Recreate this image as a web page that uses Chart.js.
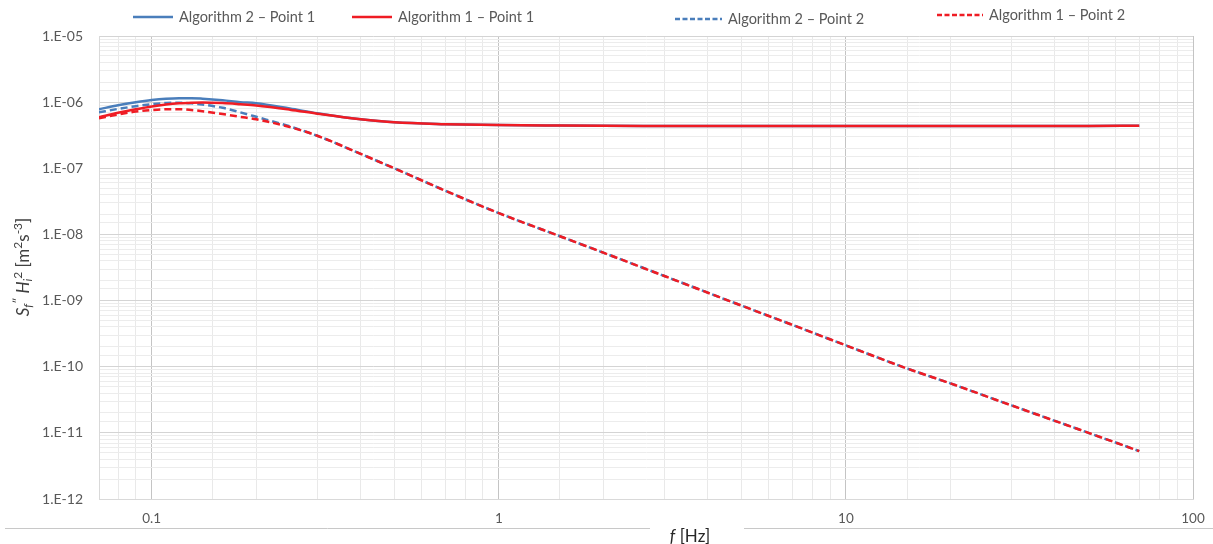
<!DOCTYPE html>
<html>
<head>
<meta charset="utf-8">
<script src="https://cdn.jsdelivr.net/npm/chart.js@4/dist/chart.umd.min.js"></script>
<style>
  html, body { margin: 0; padding: 0; background: #fff; }
  #wrap { width: 1213px; height: 544px; position: relative; }
</style>
</head>
<body>
<div id="wrap"><canvas id="psdChart" width="1213" height="544"></canvas></div>
<script>
// Frequencies [Hz]
const freqs = [0.0705, 0.08, 0.09, 0.1, 0.11, 0.12, 0.13, 0.14, 0.16, 0.18, 0.2, 0.25, 0.3, 0.4, 0.5, 0.7,
  1, 1.5, 2, 3, 5, 7, 10, 15, 20, 30, 50, 70];

// S_f'' H_i^2 values per series
const alg2Point1 = [7.8e-7, 9.0e-7, 1.0e-6, 1.08e-6, 1.13e-6, 1.15e-6, 1.15e-6, 1.13e-6, 1.07e-6, 1.0e-6, 9.6e-7, 8.0e-7, 6.8e-7, 5.5e-7, 4.95e-7, 4.65e-7,
  4.5e-7, 4.42e-7, 4.38e-7, 4.36e-7, 4.35e-7, 4.35e-7, 4.35e-7, 4.35e-7, 4.35e-7, 4.35e-7, 4.36e-7, 4.4e-7];
const alg1Point1 = [5.9e-7, 6.9e-7, 7.8e-7, 8.6e-7, 9.2e-7, 9.6e-7, 9.8e-7, 9.9e-7, 9.7e-7, 9.3e-7, 8.9e-7, 7.7e-7, 6.7e-7, 5.5e-7, 4.95e-7, 4.65e-7,
  4.5e-7, 4.42e-7, 4.38e-7, 4.36e-7, 4.35e-7, 4.35e-7, 4.35e-7, 4.35e-7, 4.35e-7, 4.35e-7, 4.36e-7, 4.4e-7];
const alg2Point2 = [7.0e-7, 7.9e-7, 8.7e-7, 9.3e-7, 9.7e-7, 9.8e-7, 9.6e-7, 9.2e-7, 8.2e-7, 7.0e-7, 6.0e-7, 4.3e-7, 3.1e-7, 1.65e-7, 1.0e-7, 4.6e-8,
  2.1e-8, 9.4e-9, 5.3e-9, 2.35e-9, 8.4e-10, 4.3e-10, 2.1e-10, 9.4e-11, 5.6e-11, 2.6e-11, 1.0e-11, 5.3e-12];
const alg1Point2 = [5.7e-7, 6.5e-7, 7.2e-7, 7.6e-7, 7.8e-7, 7.8e-7, 7.6e-7, 7.3e-7, 6.6e-7, 6.0e-7, 5.5e-7, 4.2e-7, 3.1e-7, 1.65e-7, 1.0e-7, 4.6e-8,
  2.1e-8, 9.4e-9, 5.3e-9, 2.35e-9, 8.4e-10, 4.3e-10, 2.1e-10, 9.4e-11, 5.6e-11, 2.6e-11, 1.0e-11, 5.3e-12];

const seriesNames = ["Algorithm 2 \u2013 Point 1", "Algorithm 1 \u2013 Point 1", "Algorithm 2 \u2013 Point 2", "Algorithm 1 \u2013 Point 2"];

// Axis limits
const xMin = 0.0705, xMax = 100;
const yMin = 1e-12, yMax = 1e-5;

const BLUE = "#4a7ebb";
const RED = "#ef1c24";
const FONT = "Lato, 'Noto Sans', sans-serif";

function toPoints(vals) {
  return freqs.map((f, i) => ({ x: f, y: vals[i] }));
}
function isDecade(v) {
  const e = Math.log10(v);
  return Math.abs(e - Math.round(e)) < 1e-6;
}

// Legend drawn by hand so the uneven spacing can be kept
const legendPlugin = {
  id: "handLegend",
  afterDraw(chart) {
    const ctx = chart.ctx;
    const spots = [[133, 17, 40], [352, 17, 40], [675, 19, 47], [937, 15, 46]];
    ctx.save();
    ctx.font = "14.5px " + FONT;
    ctx.textBaseline = "middle";
    chart.data.datasets.forEach((ds, i) => {
      const [x, y, len] = spots[i];
      ctx.strokeStyle = ds.borderColor;
      ctx.lineWidth = 2.5;
      ctx.setLineDash(ds.borderDash && ds.borderDash.length ? [5, 2.5] : []);
      ctx.beginPath();
      ctx.moveTo(x, y);
      ctx.lineTo(x + len, y);
      ctx.stroke();
      ctx.setLineDash([]);
      ctx.fillStyle = "#595959";
      ctx.fillText(ds.label, x + len + 6, y);
    });
    ctx.restore();
  }
};

// Axis titles with sub/superscripts + bottom rule
const titlePlugin = {
  id: "axisTitles",
  afterDraw(chart) {
    const ctx = chart.ctx;
    ctx.save();
    // y title
    const parts = [
      { t: "S", it: true }, { t: "f", it: true, sub: true }, { t: "\u2033", sup: true },
      { t: " H", it: true }, { t: "i", it: true, sub: true }, { t: "2", sup: true },
      { t: " [m" }, { t: "2", sup: true }, { t: "s" }, { t: "-3", sup: true }, { t: "]" }
    ];
    const fontFor = p => (p.it ? "italic " : "") + ((p.sub || p.sup) ? "12px " : "17px ") + FONT;
    let total = 0;
    parts.forEach(p => { ctx.font = fontFor(p); p.w = ctx.measureText(p.t).width; total += p.w; });
    ctx.translate(29, 267);
    ctx.rotate(-Math.PI / 2);
    ctx.fillStyle = "#404040";
    ctx.textBaseline = "alphabetic";
    let x = -total / 2;
    parts.forEach(p => {
      ctx.font = fontFor(p);
      const dy = p.sub ? 3 : (p.sup ? -7 : 0);
      ctx.fillText(p.t, x, dy);
      x += p.w;
    });
    ctx.restore();

    // x title, sitting in a gap of the bottom rule
    ctx.save();
    ctx.strokeStyle = "#c8c8c8";
    ctx.lineWidth = 1;
    ctx.beginPath();
    ctx.moveTo(5, 528.5); ctx.lineTo(650, 528.5);
    ctx.moveTo(744, 528.5); ctx.lineTo(1213, 528.5);
    ctx.stroke();
    ctx.font = "italic 17px " + FONT;
    const wf = ctx.measureText("f").width;
    ctx.font = "17px " + FONT;
    const wr = ctx.measureText(" [Hz]").width;
    const sx = 690 - (wf + wr) / 2;
    ctx.fillStyle = "#262626";
    ctx.textBaseline = "alphabetic";
    ctx.font = "italic 17px " + FONT;
    ctx.fillText("f", sx, 542);
    ctx.font = "17px " + FONT;
    ctx.fillText(" [Hz]", sx + wf, 542);
    ctx.restore();
  }
};

const common = { pointRadius: 0, borderWidth: 2.5, showLine: true, fill: false, cubicInterpolationMode: "monotone" };

new Chart(document.getElementById("psdChart"), {
  type: "scatter",
  data: {
    datasets: [
      { ...common, label: seriesNames[0], data: toPoints(alg2Point1), borderColor: BLUE, borderDash: [], order: 4 },
      { ...common, label: seriesNames[1], data: toPoints(alg1Point1), borderColor: RED, borderDash: [], order: 2 },
      { ...common, label: seriesNames[2], data: toPoints(alg2Point2), borderColor: BLUE, borderDash: [7, 4], order: 3 },
      { ...common, label: seriesNames[3], data: toPoints(alg1Point2), borderColor: RED, borderDash: [7, 4], order: 1 }
    ]
  },
  options: {
    responsive: false,
    animation: false,
    devicePixelRatio: 1,
    layout: { padding: { top: 36, right: 20, left: 0, bottom: 0 } },
    plugins: { legend: { display: false }, tooltip: { enabled: false } },
    scales: {
      x: {
        type: "logarithmic",
        min: xMin, max: xMax,
        afterFit: s => { s.height = 45; s.paddingLeft = 0; s.paddingRight = 0; },
        border: { color: "#d9d9d9" },
        grid: {
          drawTicks: false,
          color: c => (c.tick && isDecade(c.tick.value) && c.index > 0) ? "#c4c4c4" : "#e9e9e9"
        },
        ticks: {
          autoSkip: false, maxRotation: 0, padding: 12,
          color: "#595959", font: { family: FONT, size: 13.5 },
          callback: v => isDecade(v) ? String(Number(v.toPrecision(3))) : ""
        }
      },
      y: {
        type: "logarithmic",
        min: yMin, max: yMax,
        afterFit: s => { s.width = 99; },
        border: { color: "#d9d9d9" },
        grid: {
          drawTicks: false,
          color: c => (c.tick && isDecade(c.tick.value)) ? "#d4d4d4" : "#ececec"
        },
        ticks: {
          autoSkip: false, padding: 16,
          color: "#595959", font: { family: FONT, size: 14 },
          callback: v => isDecade(v) ? "1.E-" + String(-Math.round(Math.log10(v))).padStart(2, "0") : ""
        }
      }
    }
  },
  plugins: [legendPlugin, titlePlugin]
});
</script>
</body>
</html>
